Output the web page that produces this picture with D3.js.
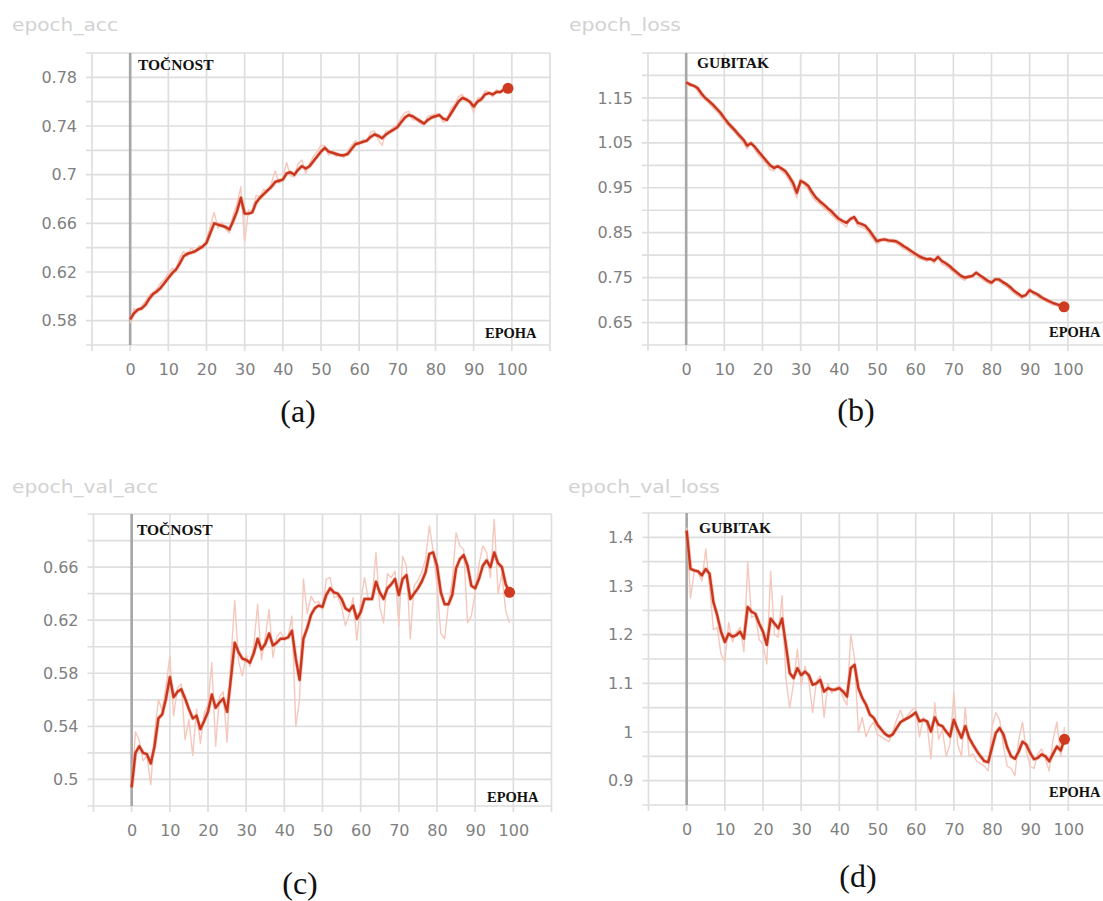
<!DOCTYPE html>
<html>
<head>
<meta charset="utf-8">
<script src="https://cdn.jsdelivr.net/npm/d3@7/dist/d3.min.js"></script>
<style>
  html, body { margin: 0; padding: 0; background: #ffffff; }
  svg { display: block; }
</style>
</head>
<body>
<svg id="chart" width="1103" height="901"></svg>
<script>
// ---------------- DATA ----------------
const epochs = d3.range(0, 100);
const xTicks = [0, 10, 20, 30, 40, 50, 60, 70, 80, 90, 100];

const accYTicks = [0.58, 0.62, 0.66, 0.70, 0.74, 0.78];
const lossYTicks = [0.65, 0.75, 0.85, 0.95, 1.05, 1.15];
const valAccYTicks = [0.50, 0.54, 0.58, 0.62, 0.66];
const valLossYTicks = [0.9, 1.0, 1.1, 1.2, 1.3, 1.4];

const chartTitles = ["epoch_acc", "epoch_loss", "epoch_val_acc", "epoch_val_loss"];
const yLabels = ["TOČNOST", "GUBITAK", "TOČNOST", "GUBITAK"];
const xLabel = "EPOHA";
const captions = ["(a)", "(b)", "(c)", "(d)"];

const accSmooth = [0.581,0.586,0.589,0.590,0.593,0.598,0.602,0.604,0.607,0.611,
  0.615,0.619,0.622,0.627,0.633,0.635,0.636,0.637,0.639,0.641,
  0.644,0.652,0.660,0.659,0.658,0.657,0.655,0.662,0.670,0.681,
  0.668,0.668,0.669,0.677,0.681,0.684,0.687,0.690,0.694,0.695,
  0.696,0.701,0.702,0.700,0.704,0.707,0.705,0.707,0.711,0.715,
  0.719,0.722,0.719,0.718,0.717,0.716,0.716,0.717,0.721,0.725,
  0.726,0.727,0.728,0.731,0.733,0.732,0.730,0.733,0.735,0.737,
  0.739,0.743,0.747,0.749,0.748,0.746,0.744,0.742,0.745,0.747,
  0.748,0.749,0.746,0.745,0.750,0.755,0.760,0.763,0.762,0.760,
  0.756,0.760,0.762,0.766,0.767,0.766,0.768,0.768,0.770,0.771];
const accRaw = [0.578,0.590,0.588,0.592,0.596,0.601,0.603,0.606,0.611,0.614,
  0.619,0.623,0.621,0.632,0.637,0.633,0.640,0.636,0.642,0.640,
  0.646,0.658,0.669,0.656,0.661,0.655,0.652,0.667,0.676,0.690,
  0.645,0.671,0.670,0.683,0.682,0.688,0.686,0.693,0.703,0.693,
  0.697,0.710,0.699,0.698,0.709,0.712,0.701,0.709,0.715,0.719,
  0.724,0.724,0.716,0.719,0.715,0.717,0.714,0.719,0.724,0.728,
  0.725,0.729,0.727,0.735,0.736,0.729,0.724,0.736,0.736,0.739,
  0.741,0.747,0.751,0.752,0.745,0.745,0.742,0.741,0.748,0.749,
  0.750,0.750,0.743,0.745,0.754,0.758,0.764,0.766,0.760,0.759,
  0.751,0.763,0.763,0.769,0.768,0.764,0.770,0.767,0.772,0.772];

const lossSmooth = [1.185,1.180,1.177,1.172,1.160,1.150,1.143,1.135,1.126,1.117,
  1.105,1.094,1.085,1.076,1.066,1.057,1.044,1.049,1.041,1.030,
  1.020,1.010,1.000,0.994,0.998,0.993,0.987,0.975,0.961,0.939,
  0.965,0.961,0.954,0.940,0.928,0.920,0.913,0.905,0.898,0.889,
  0.881,0.876,0.872,0.880,0.885,0.872,0.869,0.865,0.855,0.843,
  0.831,0.834,0.835,0.833,0.832,0.831,0.826,0.820,0.815,0.809,
  0.803,0.798,0.794,0.791,0.792,0.788,0.796,0.787,0.782,0.776,
  0.768,0.761,0.754,0.750,0.752,0.754,0.761,0.755,0.749,0.743,
  0.739,0.746,0.746,0.740,0.735,0.728,0.720,0.714,0.708,0.711,
  0.722,0.717,0.713,0.707,0.702,0.698,0.694,0.691,0.688,0.685];
const lossRaw = [1.188,1.176,1.178,1.166,1.152,1.146,1.138,1.128,1.120,1.110,
  1.098,1.088,1.080,1.070,1.060,1.050,1.036,1.052,1.034,1.022,
  1.012,1.004,0.990,0.988,1.000,0.986,0.980,0.966,0.950,0.928,
  0.972,0.955,0.946,0.930,0.920,0.914,0.905,0.898,0.890,0.882,
  0.874,0.870,0.862,0.884,0.884,0.864,0.862,0.858,0.846,0.836,
  0.824,0.832,0.834,0.828,0.830,0.826,0.820,0.814,0.810,0.802,
  0.798,0.792,0.790,0.786,0.790,0.782,0.800,0.780,0.776,0.770,
  0.762,0.755,0.748,0.744,0.752,0.752,0.762,0.750,0.744,0.738,
  0.734,0.748,0.742,0.734,0.730,0.722,0.714,0.708,0.703,0.712,
  0.726,0.712,0.708,0.702,0.698,0.694,0.690,0.688,0.684,0.682];

const valAccSmooth = [0.494,0.520,0.525,0.520,0.519,0.512,0.525,0.546,0.549,0.561,
  0.577,0.562,0.566,0.568,0.561,0.553,0.546,0.548,0.538,0.544,
  0.551,0.564,0.554,0.558,0.561,0.551,0.576,0.603,0.596,0.591,
  0.590,0.588,0.595,0.606,0.598,0.602,0.610,0.601,0.603,0.606,
  0.606,0.607,0.612,0.591,0.575,0.606,0.614,0.624,0.629,0.631,
  0.630,0.639,0.644,0.641,0.640,0.636,0.629,0.627,0.631,0.621,
  0.626,0.636,0.636,0.636,0.649,0.641,0.636,0.644,0.647,0.651,
  0.639,0.651,0.654,0.636,0.640,0.644,0.649,0.656,0.670,0.671,
  0.661,0.641,0.632,0.632,0.639,0.659,0.666,0.669,0.661,0.646,
  0.644,0.651,0.661,0.665,0.660,0.671,0.663,0.660,0.647,0.641];
const valAccRaw = [0.494,0.536,0.529,0.514,0.518,0.496,0.535,0.560,0.552,0.570,
  0.593,0.548,0.569,0.572,0.530,0.545,0.518,0.553,0.527,0.550,
  0.556,0.588,0.525,0.562,0.566,0.528,0.590,0.635,0.589,0.578,
  0.594,0.585,0.601,0.632,0.590,0.607,0.628,0.592,0.607,0.611,
  0.606,0.608,0.623,0.540,0.560,0.651,0.625,0.638,0.633,0.634,
  0.628,0.651,0.652,0.637,0.638,0.630,0.616,0.624,0.637,0.605,
  0.634,0.652,0.636,0.636,0.671,0.630,0.618,0.655,0.652,0.657,
  0.616,0.668,0.661,0.606,0.646,0.650,0.656,0.666,0.691,0.672,
  0.646,0.610,0.606,0.632,0.650,0.686,0.676,0.673,0.618,0.623,
  0.641,0.662,0.676,0.671,0.652,0.696,0.640,0.655,0.627,0.618];

const valLossSmooth = [1.414,1.335,1.332,1.330,1.322,1.335,1.325,1.267,1.240,1.206,
  1.185,1.202,1.196,1.199,1.206,1.192,1.257,1.247,1.243,1.223,
  1.206,1.179,1.233,1.223,1.213,1.233,1.179,1.121,1.111,1.131,
  1.117,1.124,1.117,1.097,1.100,1.107,1.083,1.090,1.087,1.087,
  1.090,1.083,1.073,1.131,1.138,1.090,1.070,1.056,1.036,1.029,
  1.015,1.005,0.996,0.991,0.995,1.008,1.020,1.025,1.029,1.034,
  1.040,1.022,1.025,1.022,1.001,1.030,1.015,1.012,1.001,0.991,
  1.025,1.005,0.988,1.012,0.988,0.974,0.961,0.950,0.940,0.938,
  0.968,0.998,1.008,0.995,0.968,0.950,0.945,0.960,0.980,0.974,
  0.957,0.944,0.947,0.954,0.950,0.940,0.955,0.970,0.962,0.985];
const valLossRaw = [1.420,1.275,1.330,1.328,1.310,1.376,1.300,1.210,1.215,1.160,
  1.145,1.225,1.185,1.205,1.215,1.165,1.350,1.235,1.240,1.190,
  1.180,1.140,1.330,1.200,1.195,1.280,1.110,1.050,1.100,1.170,
  1.095,1.135,1.105,1.040,1.105,1.115,1.030,1.100,1.080,1.090,
  1.095,1.070,1.055,1.200,1.150,1.000,1.030,0.990,1.010,1.020,
  0.995,0.990,0.985,0.980,1.000,1.025,1.045,1.022,1.035,1.045,
  1.050,0.990,1.030,1.015,0.945,1.060,0.985,1.005,0.950,0.975,
  1.080,0.975,0.950,1.050,0.950,0.955,0.940,0.935,0.930,0.920,
  1.010,1.040,1.025,0.970,0.930,0.925,0.910,0.985,1.020,0.960,
  0.930,0.925,0.955,0.965,0.945,0.920,0.985,1.020,0.950,1.010];

// ---------------- LAYOUT ----------------
const PW = 458, PH = 292;
const panels = [
  { smooth: accSmooth, raw: accRaw, ticks: accYTicks, domain: [0.56, 0.80], step: 0.02,
    left: 92, top: 53, titleX: 12, titleY: 31, titleLen: 106,
    labX: 138, labY: 70, epX: 485, epY: 338, capX: 298, capY: 422 },
  { smooth: lossSmooth, raw: lossRaw, ticks: lossYTicks, domain: [0.60, 1.25], step: 0.05,
    left: 648, top: 53, titleX: 569, titleY: 31, titleLen: 112,
    labX: 697, labY: 68, epX: 1049, epY: 337, capX: 856, capY: 421 },
  { smooth: valAccSmooth, raw: valAccRaw, ticks: valAccYTicks, domain: [0.48, 0.70], step: 0.02,
    left: 93.5, top: 514, titleX: 12, titleY: 493, titleLen: 146,
    labX: 137, labY: 535, epX: 487, epY: 802, capX: 300, capY: 894 },
  { smooth: valLossSmooth, raw: valLossRaw, ticks: valLossYTicks, domain: [0.85, 1.45], step: 0.05,
    left: 648.5, top: 513, titleX: 568, titleY: 493, titleLen: 152,
    labX: 699, labY: 533, epX: 1049, epY: 797, capX: 858, capY: 887 }
];

const svg = d3.select("#chart");
svg.append("rect").attr("width", 1103).attr("height", 901).attr("fill", "#ffffff");

const gridColor = "#dedede";
const lineColor = "#c8361d";
const rawColor = "#f5c8bc";
const fmt = v => String(+v.toFixed(2));

panels.forEach((p, i) => {
  const g = svg.append("g");
  const x = d3.scaleLinear().domain([-10, 110]).range([p.left, p.left + PW]);
  const y = d3.scaleLinear().domain(p.domain).range([p.top + PH, p.top]);

  // chart title
  g.append("text")
    .attr("x", p.titleX).attr("y", p.titleY)
    .attr("font-family", "DejaVu Sans, sans-serif")
    .attr("font-size", 18)
    .attr("fill", "#d2d2d2")
    .attr("textLength", p.titleLen)
    .attr("lengthAdjust", "spacingAndGlyphs")
    .text(chartTitles[i]);

  // horizontal grid lines (with small outward tick)
  const nY = Math.round((p.domain[1] - p.domain[0]) / p.step);
  const yGrid = d3.range(nY + 1).map(k => p.domain[0] + k * p.step);
  g.append("g").selectAll("line").data(yGrid).join("line")
    .attr("x1", x(-10) - 6).attr("x2", x(110))
    .attr("y1", d => y(d)).attr("y2", d => y(d))
    .attr("stroke", gridColor).attr("stroke-width", 1.7);

  // vertical grid lines
  const xGrid = d3.range(-10, 111, 10);
  g.append("g").selectAll("line").data(xGrid).join("line")
    .attr("x1", d => x(d)).attr("x2", d => x(d))
    .attr("y1", y(p.domain[0]) + 6).attr("y2", y(p.domain[1]))
    .attr("stroke", gridColor).attr("stroke-width", 1.7);

  // zero axis line
  g.append("line")
    .attr("x1", x(0)).attr("x2", x(0))
    .attr("y1", y(p.domain[0])).attr("y2", y(p.domain[1]))
    .attr("stroke", "#a6a6a6").attr("stroke-width", 2.6);

  // y axis labels
  const yAxis = d3.axisLeft(y).tickValues(p.ticks).tickSize(0).tickPadding(15).tickFormat(fmt);
  const ya = g.append("g").attr("transform", `translate(${x(-10)},0)`).call(yAxis);
  ya.select(".domain").remove();
  ya.selectAll("text")
    .attr("font-family", "DejaVu Sans, sans-serif")
    .attr("font-size", 16).attr("fill", "#7f7f7f");

  // x axis labels
  const xAxis = d3.axisBottom(x).tickValues(xTicks).tickSize(0).tickPadding(19).tickFormat(d3.format("d"));
  const xa = g.append("g").attr("transform", `translate(0,${y(p.domain[0])})`).call(xAxis);
  xa.select(".domain").remove();
  xa.selectAll("text")
    .attr("font-family", "DejaVu Sans, sans-serif")
    .attr("font-size", 16).attr("fill", "#7f7f7f");

  // raw series (faint)
  const line = d3.line().x((d, k) => x(epochs[k])).y(d => y(d));
  g.append("path").datum(p.raw)
    .attr("d", line).attr("fill", "none")
    .attr("stroke", rawColor).attr("stroke-width", 1.4)
    .attr("stroke-linejoin", "round");

  // smoothed series
  g.append("path").datum(p.smooth)
    .attr("d", line).attr("fill", "none")
    .attr("stroke", "#ec7a5e").attr("stroke-width", 4).attr("stroke-opacity", 0.4)
    .attr("stroke-linejoin", "round");
  g.append("path").datum(p.smooth)
    .attr("d", line).attr("fill", "none")
    .attr("stroke", lineColor).attr("stroke-width", 2.4)
    .attr("stroke-linejoin", "round");

  // end dot
  const last = p.smooth.length - 1;
  g.append("circle")
    .attr("cx", x(epochs[last])).attr("cy", y(p.smooth[last]))
    .attr("r", 5.5).attr("fill", "#cf3a20");

  // in-plot labels
  g.append("text")
    .attr("x", p.labX).attr("y", p.labY)
    .attr("font-family", "Liberation Serif, Times New Roman, serif")
    .attr("font-weight", "bold").attr("font-size", 15.5).attr("fill", "#111")
    .text(yLabels[i]);
  g.append("text")
    .attr("x", p.epX).attr("y", p.epY)
    .attr("font-family", "Liberation Serif, Times New Roman, serif")
    .attr("font-weight", "bold").attr("font-size", 14.5).attr("fill", "#111")
    .text(xLabel);

  // caption
  g.append("text")
    .attr("x", p.capX).attr("y", p.capY)
    .attr("text-anchor", "middle")
    .attr("font-family", "Liberation Serif, Times New Roman, serif")
    .attr("font-size", 32).attr("fill", "#111")
    .text(captions[i]);
});
</script>
</body>
</html>
